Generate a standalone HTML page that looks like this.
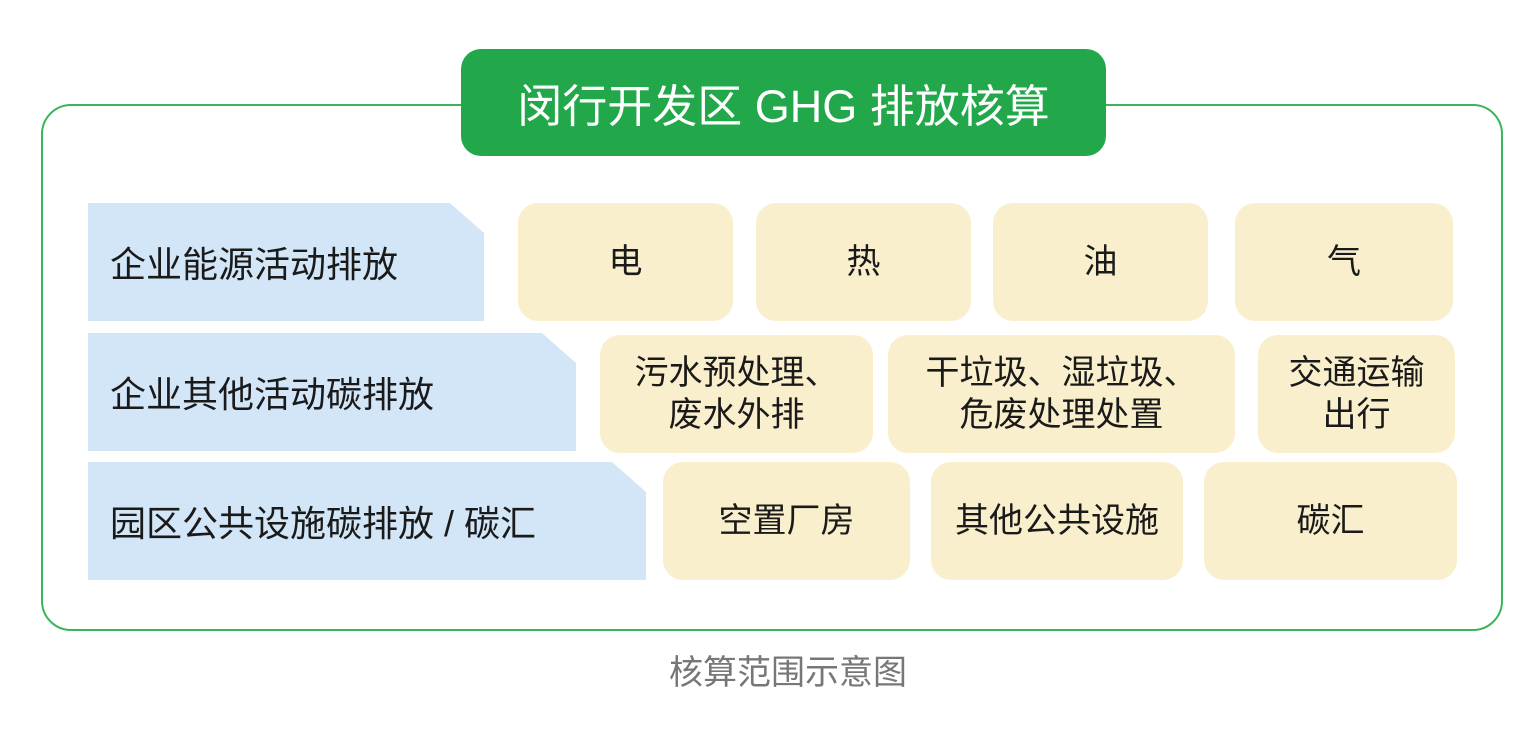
<!DOCTYPE html>
<html><head><meta charset="utf-8"><style>
body{margin:0;width:1523px;height:729px;background:#fff;position:relative;overflow:hidden;font-family:"Liberation Sans","Noto Sans CJK SC",sans-serif;}
.a{position:absolute;box-sizing:border-box;}
.y{background:#faefcc;border-radius:20px;display:flex;align-items:center;justify-content:center;text-align:center;font-size:34px;line-height:42px;color:#1a1a1a;}
.b{background:#d2e6f7;display:flex;align-items:center;padding-left:22px;font-size:36px;color:#1a1a1a;}
</style></head><body>
<div class="a" style="left:41px;top:104px;width:1462px;height:527px;border:2px solid #3cb45a;border-radius:30px;"></div>
<div class="a" style="left:461px;top:49px;width:645px;height:107px;background:#22a84a;border-radius:20px;color:#fff;font-size:45px;display:flex;align-items:center;justify-content:center;">闵行开发区 GHG 排放核算</div>

<div class="a b" style="left:88px;top:203px;width:396px;height:118px;clip-path:polygon(0 0,362px 0,100% 30px,100% 100%,0 100%);">企业能源活动排放</div>
<div class="a b" style="left:88px;top:333px;width:488px;height:118px;clip-path:polygon(0 0,454px 0,100% 30px,100% 100%,0 100%);">企业其他活动碳排放</div>
<div class="a b" style="left:88px;top:462px;width:558px;height:118px;clip-path:polygon(0 0,524px 0,100% 30px,100% 100%,0 100%);">园区公共设施碳排放 / 碳汇</div>

<div class="a y" style="left:518px;top:203px;width:215px;height:118px;">电</div>
<div class="a y" style="left:756px;top:203px;width:215px;height:118px;">热</div>
<div class="a y" style="left:993px;top:203px;width:215px;height:118px;">油</div>
<div class="a y" style="left:1235px;top:203px;width:218px;height:118px;">气</div>

<div class="a y" style="left:600px;top:335px;width:273px;height:118px;">污水预处理、<br>废水外排</div>
<div class="a y" style="left:888px;top:335px;width:347px;height:118px;">干垃圾、湿垃圾、<br>危废处理处置</div>
<div class="a y" style="left:1258px;top:335px;width:197px;height:118px;">交通运输<br>出行</div>

<div class="a y" style="left:663px;top:462px;width:247px;height:118px;">空置厂房</div>
<div class="a y" style="left:931px;top:462px;width:252px;height:118px;">其他公共设施</div>
<div class="a y" style="left:1204px;top:462px;width:253px;height:118px;">碳汇</div>

<div class="a" style="left:538px;top:645px;width:500px;text-align:center;font-size:34px;color:#777;">核算范围示意图</div>
</body></html>
